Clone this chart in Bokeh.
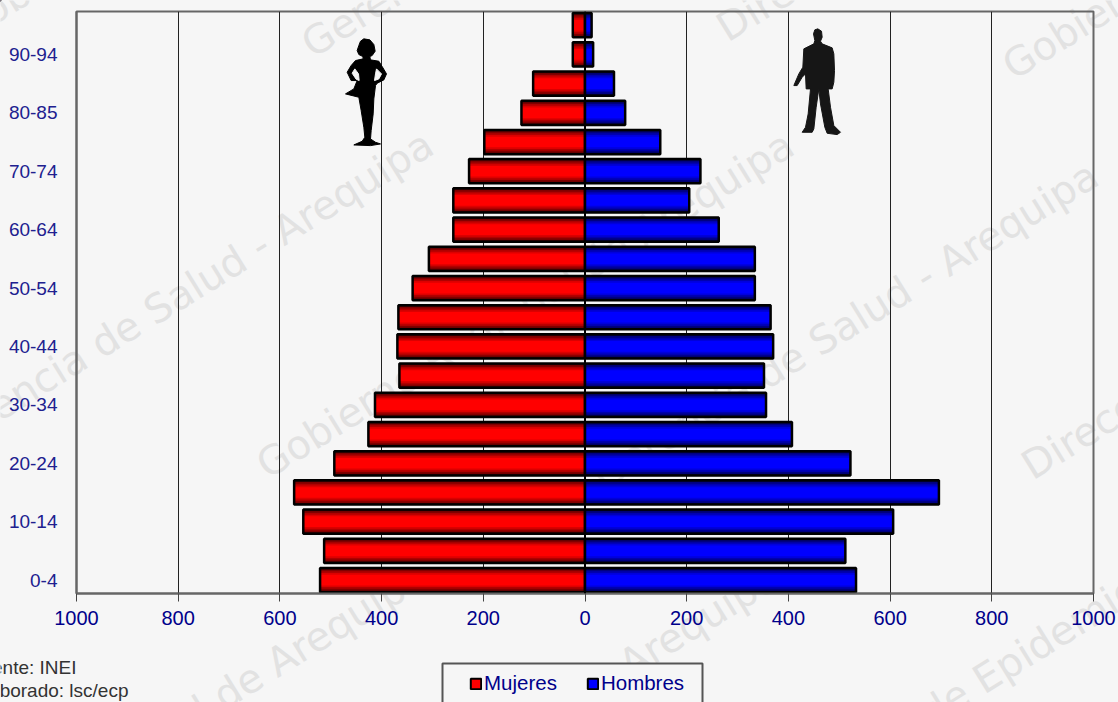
from bokeh.embed import file_html
from bokeh.layouts import column, row
from bokeh.resources import INLINE
from bokeh.plotting import figure
from bokeh.models import (ColumnDataSource, FixedTicker, Label, Legend, LegendItem, Span)

# ---- data -------------------------------------------------------------
age_groups = ["0-4", "5-9", "10-14", "15-19", "20-24", "25-29", "30-34", "35-39", "40-44", "45-49",
              "50-54", "55-59", "60-64", "65-69", "70-74", "75-79", "80-85", "85-89", "90-94", "95+"]
mujeres = [521, 513, 554, 572, 493, 426, 413, 365, 369, 367, 339, 307, 259, 259, 228, 198, 125, 102, 24, 24]
hombres = [533, 512, 606, 696, 522, 407, 356, 352, 370, 365, 334, 334, 263, 205, 227, 148, 79, 57, 16, 13]
x_ticks = [-1000, -800, -600, -400, -200, 0, 200, 400, 600, 800, 1000]

watermarks = [
    ("Gerencia de Salud - Arequipa", -57, 467),
    ("Gerencia de Salud - Arequipa", 317, 66),
    ("Gerencia de Salud - Arequipa", 608, 498),
    ("Gerencia de Salud - Arequipa", 289, 900),
    ("Gobierno Regional de Arequipa", 272, 487),
    ("Gobierno Regional de Arequipa", 1018, 88),
    ("Gobierno Regional de Arequipa", -30, 50),
    ("Gobierno Regional de Arequipa", -95, 918),
    ("Direccion de Epidemiologia", 732, 50),
    ("Direccion de Epidemiologia", 1037, 488),
    ("Direccion de Epidemiologia", 765, 840),
]

BG = "#f6f6f6"
W, H = 1118, 702
LEFT, RIGHT, TOP, BOTTOM = 76, 1093, 11, 592.5
Y0, Y1 = -0.46, 19.47

# ---- back sheet: whole window as frame, pixel coordinates ---------------
back = figure(width=W, height=H, output_backend="svg", toolbar_location=None,
              x_range=(0, W), y_range=(H, 0), x_axis_type=None, y_axis_type=None,
              min_border=0, background_fill_color=BG, border_fill_color=BG, outline_line_color=None)
back.grid.visible = False

for txt, px, py in watermarks:
    back.add_layout(Label(x=px, y=py, text=txt, angle=31.7, angle_units="deg", text_color="#e2e2e2",
                          text_font="DejaVu Sans", text_font_size="40px", level="underlay"))

back.add_layout(Label(x=76, y=667, text="Fuente: INEI", text_align="right", text_baseline="middle",
                      text_color="#333333", text_font="Liberation Sans", text_font_size="19px"))
back.add_layout(Label(x=128, y=690, text="Elaborado: lsc/ecp", text_align="right", text_baseline="middle",
                      text_color="#333333", text_font="Liberation Sans", text_font_size="19px"))

back.quad(left=[442], right=[702], top=[663], bottom=[720], fill_color=BG, line_color="#555555", line_width=2)
swatch = ColumnDataSource(dict(y=[-100], right=[-100]))
leg_m = back.hbar(y="y", right="right", height=1, source=swatch, fill_color="#ff0000", line_color="black", line_width=2)
leg_h = back.hbar(y="y", right="right", height=1, source=swatch, fill_color="#0000ff", line_color="black", line_width=2)
legend = Legend(items=[LegendItem(label="Mujeres", renderers=[leg_m]),
                       LegendItem(label="Hombres", renderers=[leg_h])],
                orientation="horizontal", location=(469, 7),
                background_fill_alpha=0, border_line_color=None,
                glyph_width=13, glyph_height=13, label_standoff=2, spacing=29,
                padding=0, margin=0,
                label_text_color="#00008b", label_text_font="Liberation Sans",
                label_text_font_size="20.5px")
back.add_layout(legend, "center")

# ---- chart on top, transparent ------------------------------------------
p = figure(width=W, height=H, output_backend="svg", toolbar_location=None,
           x_range=(-1000, 1000), y_range=(Y0, Y1),
           min_border_left=LEFT, min_border_right=W - RIGHT,
           min_border_top=TOP, min_border_bottom=int(H - BOTTOM),
           background_fill_alpha=0, border_fill_alpha=0,
           outline_line_color="#666666", outline_line_width=2)

def to_x(px):
    return (px - LEFT) / (RIGHT - LEFT) * 2000 - 1000

def to_y(py):
    return Y0 + (BOTTOM - py) / (BOTTOM - TOP) * (Y1 - Y0)

def sil(points, ox, oy, color):
    p.patch([to_x(ox + a / 3) for a, b in points], [to_y(oy + b / 3) for a, b in points],
            fill_color=color, line_color=color, line_width=1)

woman = [(100,25),(118,28),(130,42),(134,62),(125,75),(118,78),(120,88),(145,92),(155,108),(168,130),
         (160,148),(140,158),(135,165),(130,205),(128,250),(122,300),(120,325),(135,335),(150,340),
         (120,345),(70,343),(95,332),(103,320),(100,290),(92,240),(85,200),(45,190),(70,175),(80,150),
         (62,150),(50,125),(62,105),(75,90),(98,85),(97,78),(85,72),(80,60),(85,45),(90,32)]
hole_l = [(73,115),(65,128),(77,146),(86,150),(84,130)]
hole_r = [(138,115),(153,130),(145,145),(132,150),(135,130)]
man = [(97,25),(108,32),(110,50),(105,62),(110,70),(140,82),(145,100),(147,150),(145,185),(140,205),
       (128,205),(135,260),(145,315),(165,335),(155,342),(125,338),(118,320),(105,250),(100,205),
       (92,260),(85,325),(80,335),(50,335),(60,320),(68,280),(75,205),(62,205),(60,160),(50,170),
       (35,195),(25,195),(40,160),(52,140),(55,85),(85,70),(88,60),(84,40),(88,28)]
sil(woman, 330, 30, "#000000")
sil(hole_l, 330, 30, BG)
sil(hole_r, 330, 30, BG)
sil(man, 785, 20, "#161616")

# ---- bars -------------------------------------------------------------
idx = list(range(len(age_groups)))
src = ColumnDataSource(dict(y=idx, m=[-v for v in mujeres], h=hombres))
BAR_H = 0.83

def bars(col, shades):
    for color, frac in shades:
        p.hbar(y="y", left=0, right=col, height=BAR_H * frac, source=src,
               fill_color=color, line_color=None)
    p.hbar(y="y", left=0, right=col, height=BAR_H, source=src, fill_alpha=0,
           line_color="black", line_width=2.5)

bars("m", [("#4a0000", 1.0), ("#800000", 0.86), ("#b00000", 0.72), ("#dc0000", 0.58), ("#ff0000", 0.44)])
bars("h", [("#00004a", 1.0), ("#000080", 0.86), ("#0000b0", 0.72), ("#0000dc", 0.58), ("#0000ff", 0.44)])

p.add_layout(Span(location=0, dimension="height", line_color="black", line_width=2))

# ---- axes and grid ----------------------------------------------------
p.ygrid.visible = False
p.xgrid.ticker = FixedTicker(ticks=x_ticks)
p.xgrid.grid_line_color = "#222222"
p.xgrid.grid_line_width = 1
p.xgrid.level = "underlay"

xa = p.xaxis[0]
xa.ticker = FixedTicker(ticks=x_ticks)
xa.major_label_overrides = {t: str(abs(t)) for t in x_ticks}
xa.axis_line_color = "#666666"
xa.axis_line_width = 2
xa.major_tick_in = 0
xa.major_tick_out = 8
xa.major_tick_line_color = "#444444"
xa.major_tick_line_width = 1
xa.minor_tick_line_color = None
xa.major_label_text_color = "#00008b"
xa.major_label_text_font = "Liberation Sans"
xa.major_label_text_font_size = "20px"
xa.major_label_standoff = 9

ya = p.yaxis[0]
ya.ticker = FixedTicker(ticks=idx[::2])
ya.major_label_overrides = {i: age_groups[i] for i in idx[::2]}
ya.axis_line_color = "#666666"
ya.axis_line_width = 2
ya.major_tick_line_color = None
ya.minor_tick_line_color = None
ya.major_label_text_color = "#20208f"
ya.major_label_text_font = "Liberation Sans"
ya.major_label_text_font_size = "19px"
ya.major_label_standoff = 13

TEMPLATE = """{% block preamble %}<style>html,body{margin:0!important;padding:0!important;background:#f6f6f6;overflow:hidden}</style>{% endblock %}
"""

root = column(row(back), row(p, margin=(-H, 0, 0, 0)), spacing=0)
open("out.html", "w").write(file_html(root, INLINE, template=TEMPLATE))
